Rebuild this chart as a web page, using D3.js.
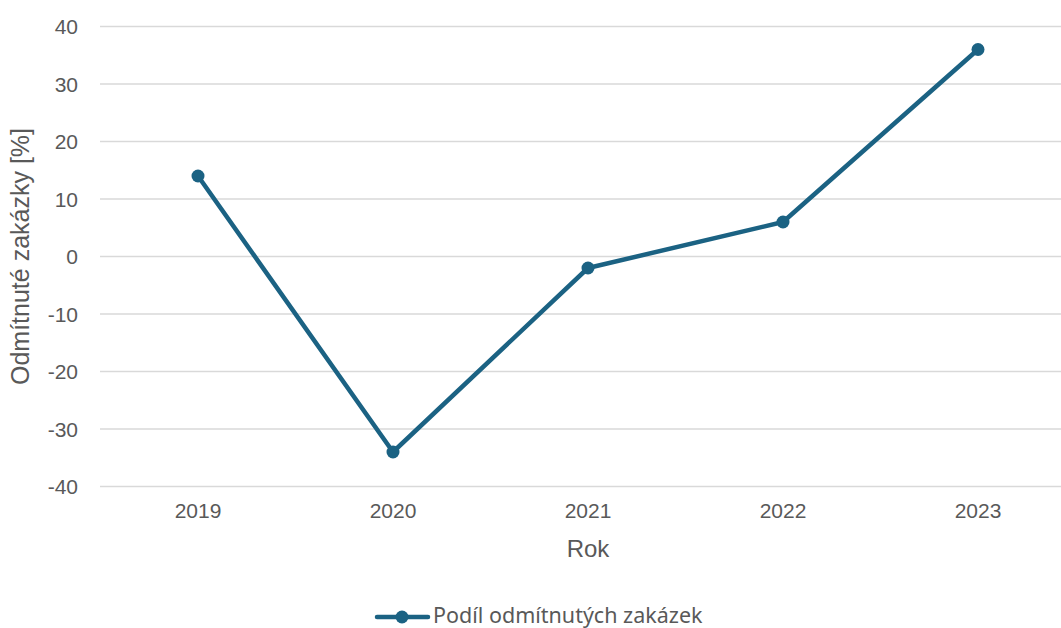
<!DOCTYPE html>
<html>
<head>
<meta charset="utf-8">
<script src="https://cdn.jsdelivr.net/npm/d3@7"></script>
<style>
  html, body { margin: 0; padding: 0; background: #fff; }
  svg { display: block; }
</style>
</head>
<body>
<svg id="chart" width="1061" height="628"></svg>
<script>
// Podíl odmítnutých zakázek po letech
const years = ["2019", "2020", "2021", "2022", "2023"];
const shareValues = [14, -34, -2, 6, 36];
const yTicks = [-40, -30, -20, -10, 0, 10, 20, 30, 40];
const seriesName = "Podíl odmítnutých zakázek";
const xTitle = "Rok";
const yTitle = "Odmítnuté zakázky [%]";

const W = 1061, H = 628;
const lineColor = "#1b6283";
const textColor = "#595959";
const axisFont = "Liberation Sans, Arial, sans-serif";

const svg = d3.select("#chart");

const x = d3.scalePoint().domain(years).range([100.5, 1075.5]).padding(0.5);
const y = d3.scaleLinear().domain([-40, 40]).range([486.5, 26.5]);

// horizontal gridlines
svg.append("g").selectAll("line").data(yTicks).join("line")
  .attr("x1", 100).attr("x2", W)
  .attr("y1", d => y(d)).attr("y2", d => y(d))
  .attr("stroke", "#d9d9d9").attr("stroke-width", 1.5);

// y tick labels
svg.append("g").selectAll("text").data(yTicks).join("text")
  .attr("x", 78).attr("y", d => y(d))
  .attr("dy", "0.36em")
  .attr("text-anchor", "end")
  .attr("font-family", axisFont).attr("font-size", 21)
  .attr("fill", textColor)
  .text(d => d);

// x tick labels
svg.append("g").selectAll("text").data(years).join("text")
  .attr("x", d => x(d)).attr("y", 518)
  .attr("text-anchor", "middle")
  .attr("font-family", axisFont).attr("font-size", 21)
  .attr("fill", textColor)
  .text(d => d);

// axis titles
svg.append("text")
  .attr("x", x("2021")).attr("y", 557)
  .attr("text-anchor", "middle")
  .attr("font-family", axisFont).attr("font-size", 24)
  .attr("fill", textColor)
  .text(xTitle);

svg.append("text")
  .attr("transform", `translate(29,${y(0)}) rotate(-90)`)
  .attr("text-anchor", "middle")
  .attr("font-family", axisFont).attr("font-size", 25)
  .attr("fill", textColor)
  .text(yTitle);

// data line
const pts = years.map((yr, i) => ({ yr, v: shareValues[i] }));
svg.append("path")
  .datum(pts)
  .attr("fill", "none")
  .attr("stroke", lineColor)
  .attr("stroke-width", 4.5)
  .attr("stroke-linejoin", "round")
  .attr("d", d3.line().x(d => x(d.yr)).y(d => y(d.v)));

svg.append("g").selectAll("circle").data(pts).join("circle")
  .attr("cx", d => x(d.yr)).attr("cy", d => y(d.v))
  .attr("r", 6.5).attr("fill", lineColor);

// legend
const lg = svg.append("g").attr("transform", "translate(0,617)");
lg.append("line")
  .attr("x1", 377).attr("x2", 428).attr("y1", 0).attr("y2", 0)
  .attr("stroke", lineColor).attr("stroke-width", 4.5).attr("stroke-linecap", "round");
lg.append("circle").attr("cx", 402).attr("cy", 0).attr("r", 6.5).attr("fill", lineColor);
lg.append("text")
  .attr("x", 433).attr("y", -2).attr("dy", "0.35em")
  .attr("font-family", "Noto Sans, sans-serif").attr("font-size", 21.5)
  .attr("fill", textColor)
  .text(seriesName);
</script>
</body>
</html>
